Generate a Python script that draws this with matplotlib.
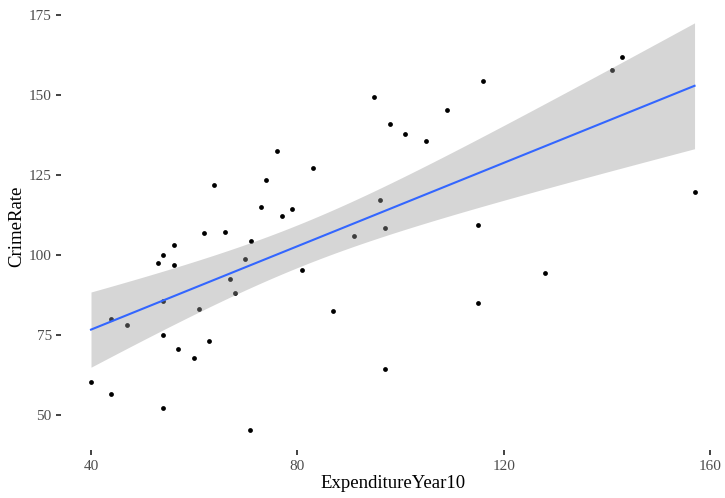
import numpy as np
import matplotlib
matplotlib.use("Agg")
import matplotlib.pyplot as plt

plt.rcParams['font.family'] = ['Liberation Serif', 'DejaVu Serif']

expenditure = [40.0, 43.9, 43.9, 47.0, 53.0, 54.0, 56.1, 56.1, 54.0, 54.0,
               54.0, 56.9, 60.0, 60.9, 62.9, 61.9, 63.8, 66.0, 66.9, 67.9,
               69.9, 70.8, 71.0, 73.0, 74.0, 76.0, 77.0, 79.0, 81.0, 83.0,
               87.0, 91.0, 94.9, 96.0, 96.9, 96.9, 98.0, 100.9, 104.9, 109.0,
               115.0, 115.0, 115.9, 128.0, 141.0, 143.0, 157.0]
crime_rate = [60.2, 56.5, 79.9, 78.0, 97.4, 99.9, 103.0, 96.8, 85.5, 74.9,
              52.1, 70.5, 67.7, 83.0, 73.0, 106.7, 121.7, 107.0, 92.4, 88.0,
              98.7, 45.2, 104.3, 115.1, 123.4, 132.4, 112.1, 114.3, 95.2, 127.2,
              82.3, 105.9, 149.4, 117.2, 108.3, 64.2, 140.8, 137.8, 135.5, 145.4,
              109.4, 84.9, 154.2, 94.3, 157.8, 161.9, 119.7]
x_ticks = [40, 80, 120, 160]
y_ticks = [50, 75, 100, 125, 150, 175]

x = np.array(expenditure)
y = np.array(crime_rate)
n = len(x)

# linear fit with 95% confidence band
b1, b0 = np.polyfit(x, y, 1)
xs = np.linspace(x.min(), x.max(), 80)
ys = b0 + b1 * xs
resid = y - (b0 + b1 * x)
s = np.sqrt(np.sum(resid ** 2) / (n - 2))
sxx = np.sum((x - x.mean()) ** 2)
se = s * np.sqrt(1.0 / n + (xs - x.mean()) ** 2 / sxx)
tval = 2.0141
lo = ys - tval * se
hi = ys + tval * se

fig = plt.figure(figsize=(7.25, 4.98), dpi=100)
ax = fig.add_axes([0.0839, 0.0954, 0.9157, 0.8996])

ax.scatter(x, y, s=12, color='black', zorder=2, linewidths=0)
ax.fill_between(xs, lo, hi, color='#999999', alpha=0.4, linewidth=0, zorder=3)
ax.plot(xs, ys, color='#3366FF', linewidth=1.5, zorder=4)

xr = x.max() - x.min()
ax.set_xlim(x.min() - 0.05 * xr, x.max() + 0.05 * xr)
ymin = min(y.min(), lo.min())
ymax = max(y.max(), hi.max())
yr = ymax - ymin
ax.set_ylim(ymin - 0.05 * yr, ymax + 0.05 * yr)

ax.set_xticks(x_ticks)
ax.set_yticks(y_ticks)
for sp in ax.spines.values():
    sp.set_visible(False)
ax.tick_params(axis='both', colors='#333333', labelcolor='#4D4D4D',
               labelsize=11, length=3.5, width=1.3, pad=3)
ax.set_xlabel('ExpenditureYear10', fontsize=13.5, color='black', labelpad=2)
ax.set_ylabel('CrimeRate', fontsize=13.5, color='black', labelpad=3)

fig.savefig('out.png', dpi=100)
